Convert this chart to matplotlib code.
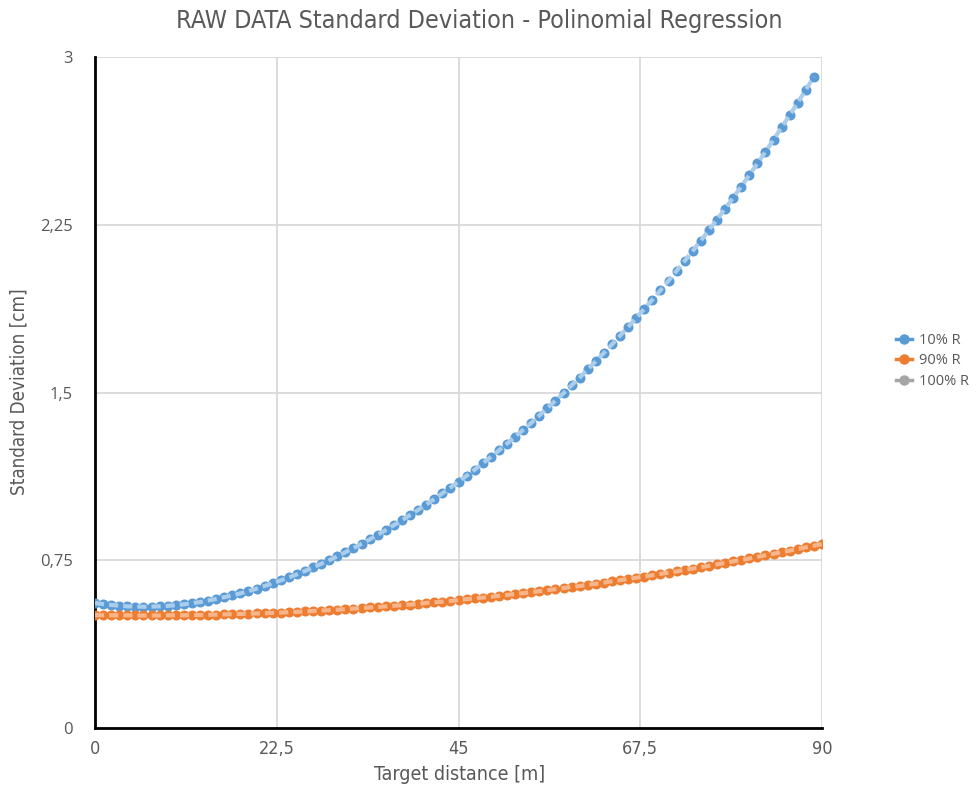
import matplotlib
matplotlib.use("Agg")
import matplotlib.pyplot as plt
from matplotlib.lines import Line2D
from matplotlib import font_manager as fm

# ---- data ----
title = "RAW DATA Standard Deviation - Polinomial Regression"
x_label = "Target distance [m]"
y_label = "Standard Deviation [cm]"
x_ticks = [0, 22.5, 45, 67.5, 90]
x_tick_labels = ["0", "22,5", "45", "67,5", "90"]
y_ticks = [0, 0.75, 1.5, 2.25, 3]
y_tick_labels = ["0", "0,75", "1,5", "2,25", "3"]
series_names = ["10% R", "90% R", "100% R"]

x_10 = list(range(0, 90))
y_10 = [0.559, 0.554, 0.550, 0.547, 0.544, 0.543, 0.542, 0.543, 0.544, 0.546,
        0.549, 0.553, 0.558, 0.563, 0.570, 0.577, 0.585, 0.593, 0.602, 0.612,
        0.623, 0.635, 0.647, 0.660, 0.673, 0.687, 0.702, 0.718, 0.734, 0.750,
        0.768, 0.786, 0.804, 0.824, 0.843, 0.864, 0.885, 0.907, 0.929, 0.952,
        0.975, 0.999, 1.024, 1.049, 1.075, 1.101, 1.128, 1.155, 1.183, 1.212,
        1.241, 1.271, 1.302, 1.333, 1.364, 1.397, 1.430, 1.463, 1.497, 1.532,
        1.567, 1.603, 1.640, 1.677, 1.715, 1.754, 1.793, 1.833, 1.874, 1.915,
        1.957, 2.000, 2.044, 2.088, 2.133, 2.179, 2.226, 2.273, 2.322, 2.371,
        2.421, 2.472, 2.524, 2.576, 2.630, 2.685, 2.740, 2.796, 2.854, 2.912]

x_90 = list(range(0, 91))
y_90 = [0.505, 0.504, 0.504, 0.504, 0.504, 0.503, 0.503, 0.503, 0.503, 0.504,
        0.504, 0.504, 0.505, 0.505, 0.506, 0.507, 0.508, 0.509, 0.510, 0.511,
        0.512, 0.513, 0.515, 0.516, 0.518, 0.519, 0.521, 0.523, 0.525, 0.527,
        0.529, 0.531, 0.534, 0.536, 0.539, 0.541, 0.544, 0.547, 0.549, 0.552,
        0.555, 0.559, 0.562, 0.565, 0.568, 0.572, 0.576, 0.579, 0.583, 0.587,
        0.591, 0.595, 0.599, 0.603, 0.607, 0.612, 0.616, 0.621, 0.626, 0.630,
        0.635, 0.640, 0.645, 0.650, 0.656, 0.661, 0.666, 0.672, 0.677, 0.683,
        0.689, 0.695, 0.700, 0.707, 0.713, 0.719, 0.725, 0.732, 0.738, 0.745,
        0.751, 0.758, 0.765, 0.772, 0.779, 0.786, 0.793, 0.800, 0.808, 0.815,
        0.823]

x_100 = []
y_100 = []

# ---- style ----
blue, orange, gray = "#5B9BD5", "#ED7D31", "#A5A5A5"
blue_trend, orange_trend = "#A9CDEB", "#F6B58A"
text_col = "#595959"

# pick a condensed font if one is installed
cond_files = [f for f in fm.fontManager.ttflist
              if ("Narrow" in f.name or "Condensed" in f.name
                  or "Condensed" in f.fname or "Narrow" in f.fname)
              and f.weight in (400, "normal", "regular") and f.style == "normal"]
if cond_files:
    cond_files.sort(key=lambda f: (0 if "Liberation" in f.name or "Liberation" in f.fname else 1))
    use_cond = True
else:
    use_cond = False


def ctext(size):
    if use_cond:
        p = fm.FontProperties(fname=cond_files[0].fname, size=size)
        return dict(fontproperties=p)
    return dict(fontfamily="DejaVu Sans", fontsize=size * 0.85)


fig = plt.figure(figsize=(9.77, 7.87), dpi=100)
ax = fig.add_axes([95/977, 1-728/787, (822-95)/977, (728-57)/787])

ax.plot(x_10, y_10, "o", color=blue, ms=6.2, mec=blue, zorder=3)
ax.plot(x_10, y_10, "--", color=blue_trend, lw=3, dashes=(2.2, 1.2), zorder=4)
ax.plot(x_90, y_90, "o", color=orange, ms=6.2, mec=orange, zorder=3)
ax.plot(x_90, y_90, "--", color=orange_trend, lw=3, dashes=(2.2, 1.2), zorder=4)
ax.plot(x_100, y_100, "o", color=gray, ms=6.2, zorder=3)

ax.set_xlim(0, 90)
ax.set_ylim(0, 3)
ax.set_xticks(x_ticks)
ax.set_xticklabels(x_tick_labels, color=text_col, **ctext(13))
ax.set_yticks(y_ticks)
ax.set_yticklabels(y_tick_labels, fontfamily=["Open Sans", "DejaVu Sans"], fontsize=12, color=text_col)
ax.tick_params(axis="both", length=0)
ax.tick_params(axis="x", pad=9)
ax.tick_params(axis="y", pad=16)
ax.grid(True, color="#D9D9D9", lw=1.3)
ax.set_axisbelow(True)
for s in ["top", "right"]:
    ax.spines[s].set_visible(False)
for s in ["left", "bottom"]:
    ax.spines[s].set_color("black")
    ax.spines[s].set_linewidth(2)

fig.text(479/977, 1-21/787, title, ha="center", va="center",
         color=text_col, **ctext(18))
fig.text(460/977, 1-775/787, x_label, ha="center", va="center",
         color=text_col, **ctext(14))
fig.text(19/977, 1-392/787, y_label, ha="center", va="center", rotation=90,
         color=text_col, **ctext(13.5))

handles = [Line2D([], [], color=c, marker="o", ms=6.5, lw=2.5)
           for c in (blue, orange, gray)]
leg = fig.legend(handles, series_names, loc="center left",
                 bbox_to_anchor=(896/977, 1-361/787), frameon=False,
                 borderpad=0, borderaxespad=0,
                 handlelength=1.1, handletextpad=0.45, labelspacing=0.4,
                 prop={"family": ["Open Sans", "DejaVu Sans"], "size": 10.5})
for t in leg.get_texts():
    t.set_color(text_col)

fig.savefig("out.png", dpi=100)
